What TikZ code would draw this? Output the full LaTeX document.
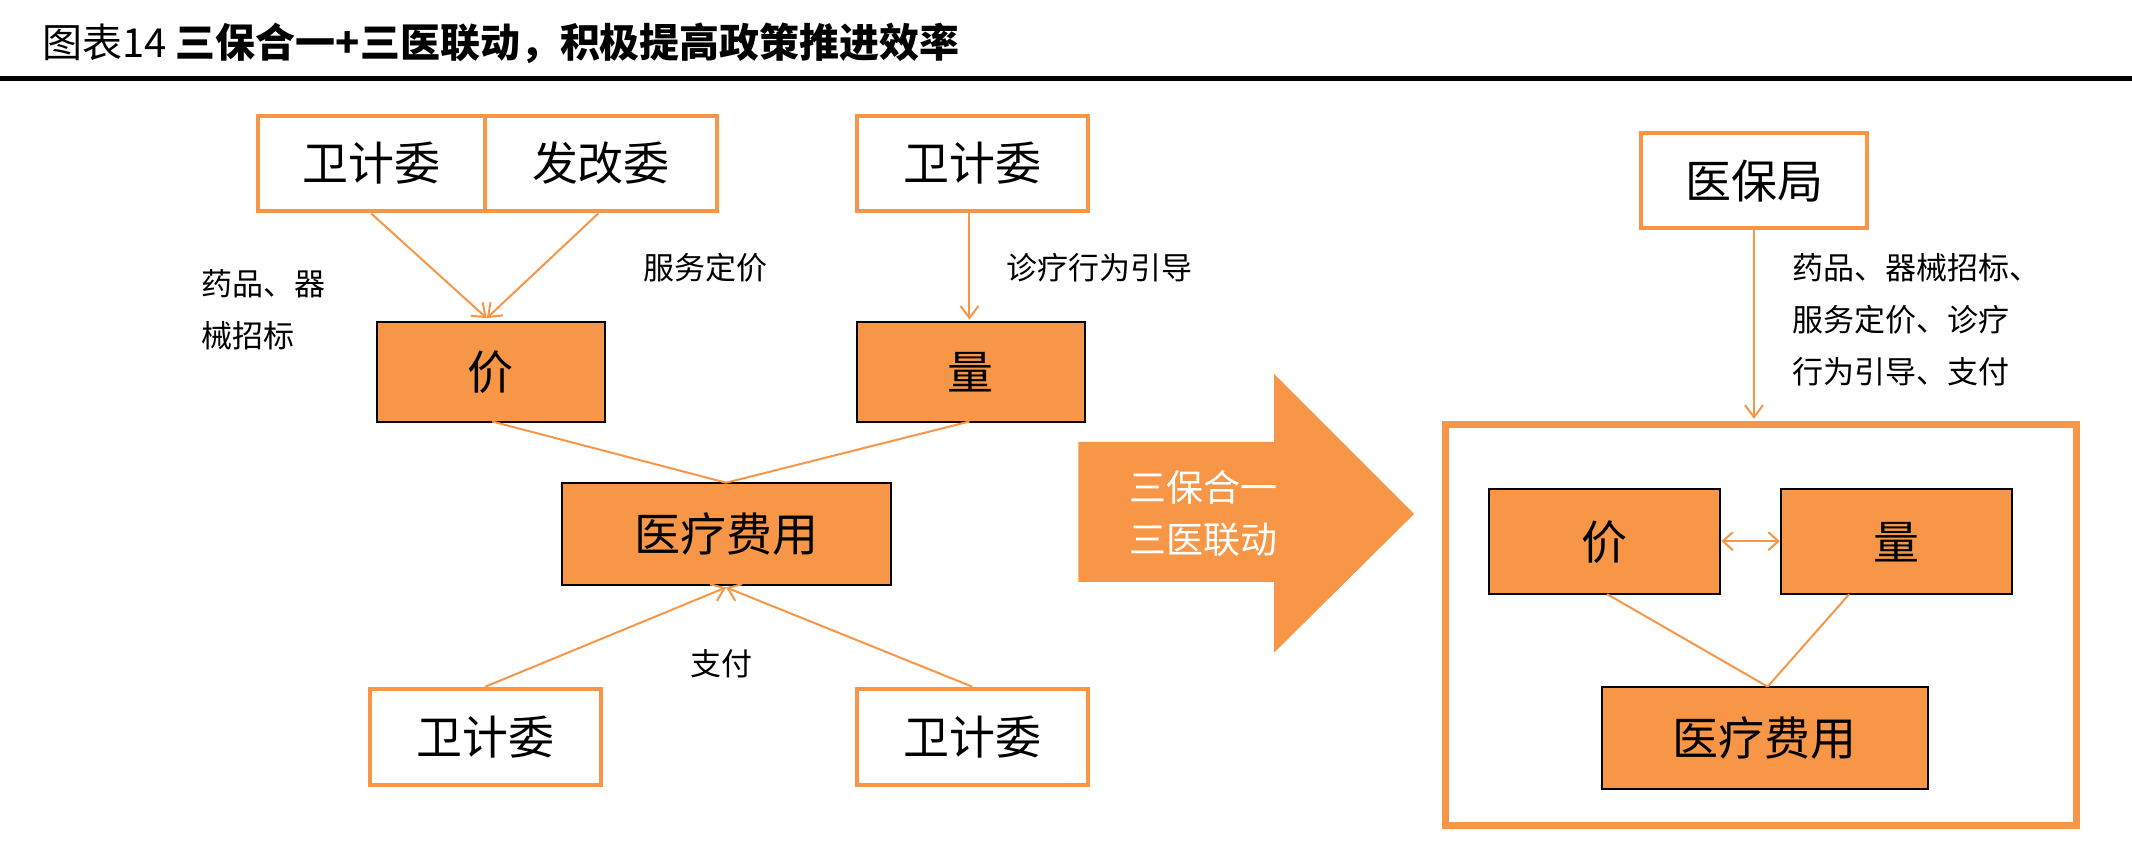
\documentclass[tikz,border=0pt]{standalone}
\usepackage{fontspec}
\setmainfont{Noto Sans CJK SC}
\definecolor{orng}{HTML}{F79646}
\tikzset{every picture/.style={line width=2pt}}
\tikzset{
  wbox/.style={draw=orng,line width=4pt,fill=white,font=\fontsize{46}{50}\selectfont},
  obox/.style={fill=orng,font=\fontsize{46}{50}\selectfont},
  lbl/.style={font=\fontsize{31}{52}\selectfont,align=left},
  conn/.style={draw=orng,line width=2pt},
  arr/.style={conn,-{Straight Barb[length=12pt,width=18pt]}},
}
\usetikzlibrary{arrows.meta}
\begin{document}
\begin{tikzpicture}[x=1.36pt,y=1.36pt,yscale=-1,xscale=1]
\useasboundingbox (0,0) rectangle (1568,622);

% title
\draw (28,32) node [anchor=west,font=\fontsize{40}{44}\selectfont] (title) {图表14\ \textbf{三保合一+三医联动，积极提高政策推进效率}};
\draw [line width=5pt] (0,58) -- (1568,58);

% left part
\draw [wbox] (190,85) rectangle (357,155) node [midway] (wjwA) {卫计委};
\draw [wbox] (357,85) rectangle (527,155) node [midway] (fgw) {发改委};
\draw [wbox] (630,85) rectangle (800,155) node [midway] (wjwB) {卫计委};
\draw [obox] (277,237) rectangle (445,310) node [midway] (jia) {价};
\draw [obox] (630,237) rectangle (798,310) node [midway] (liang) {量};
\draw [obox] (413,355) rectangle (655,430) node [midway] (fy) {医疗费用};
\draw [wbox] (272,507) rectangle (442,577) node [midway] (wjwC) {卫计委};
\draw [wbox] (630,507) rectangle (800,577) node [midway] (wjwD) {卫计委};

\coordinate (jiaT) at (358,234);
\coordinate (fyT) at (534,355);
\coordinate (fyB) at (534,432);
\draw [arr] (273,157) -- (jiaT);
\draw [arr] (440,157) -- (jiaT);
\draw [arr] (713,157) -- (713,235);
\draw [conn] (362,310) -- (fyT);
\draw [conn] (713,310) -- (fyT);
\draw [arr] (357,505) -- (fyB);
\draw [arr] (715,505) -- (fyB);

\draw (145,228) node [lbl,anchor=west] (l1) {药品、器\\械招标};
\draw (470,197) node [lbl,anchor=west] (l2) {服务定价};
\draw (737,197) node [lbl,anchor=west] (l3) {诊疗行为引导};
\draw (505,488) node [lbl,anchor=west] (l4) {支付};

% big arrow
\fill [orng] (793,325) -- (937,325) -- (937,275) -- (1040,378) -- (937,480) -- (937,428) -- (793,428) -- cycle;
\draw (885,378) node [font=\fontsize{37}{52}\selectfont,text=white,align=center] (mid) {三保合一\\三医联动};

% right part
\draw [wbox] (1207,98) rectangle (1373,168) node [midway] (ybj) {医保局};
\draw [draw=orng,line width=7pt] (1063,312) rectangle (1527,607);
\draw [arr] (1290,168) -- (1290,308);
\draw (1315,235) node [lbl,anchor=west] (l5) {药品、器械招标、\\服务定价、诊疗\\行为引导、支付};
\draw [obox] (1095,360) rectangle (1265,437) node [midway] (jia2) {价};
\draw [obox] (1310,360) rectangle (1480,437) node [midway] (liang2) {量};
\draw [obox] (1178,505) rectangle (1418,580) node [midway] (fy2) {医疗费用};
\draw [conn,{Straight Barb[length=10pt,width=18pt]}-{Straight Barb[length=10pt,width=18pt]}] (1266,398) -- (1309,398);
\coordinate (fy2T) at (1300,505);
\draw [conn] (1182,437) -- (fy2T);
\draw [conn] (1360,437) -- (fy2T);

\end{tikzpicture}
\end{document}
